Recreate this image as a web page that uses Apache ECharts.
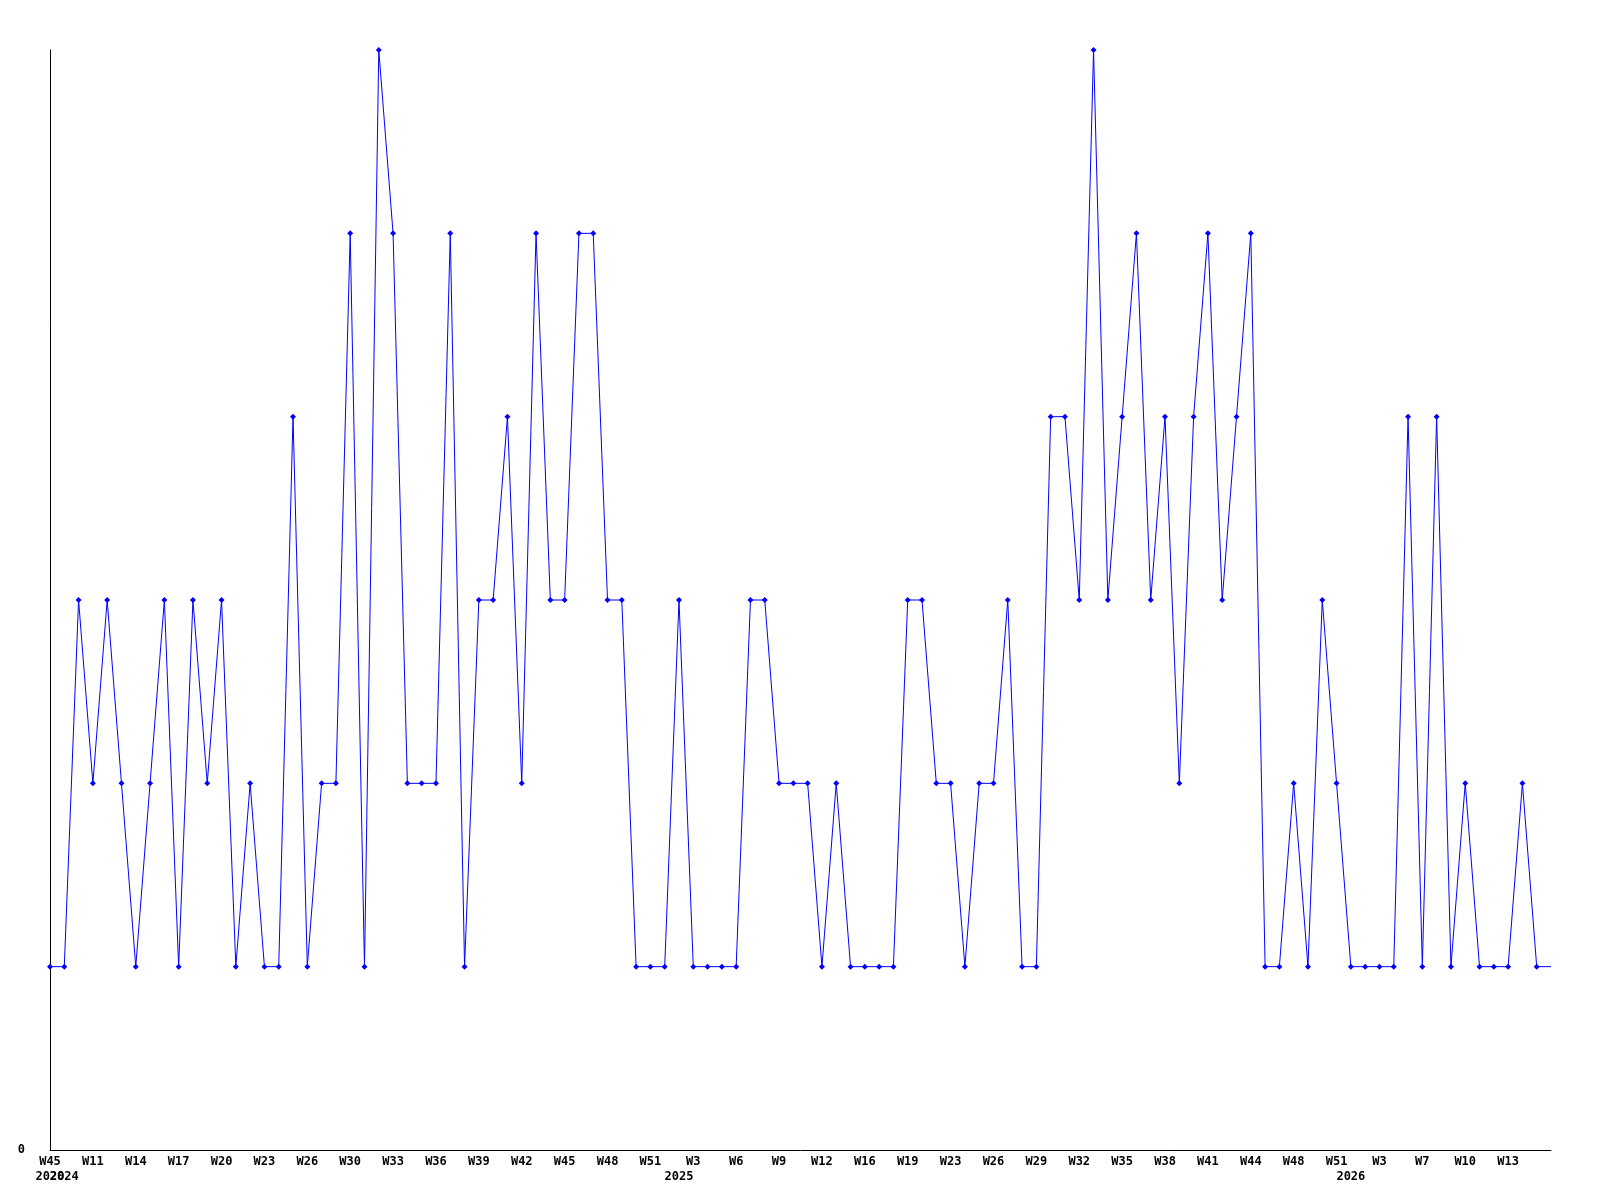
<!DOCTYPE html>
<html>
<head>
<meta charset="utf-8">
<script src="https://cdn.jsdelivr.net/npm/echarts@6/dist/echarts.min.js"></script>
<style>
html, body { margin: 0; padding: 0; background: #fff; }
#chart { width: 1600px; height: 1200px; }
</style>
</head>
<body>
<div id="chart"></div>
<script>
/* weekly values, one per point */
var values = [
    1, 1, 3, 2, 3, 2, 1, 2, 3, 1,
    3, 2, 3, 1, 2, 1, 1, 4, 1, 2,
    2, 5, 1, 6, 5, 2, 2, 2, 5, 1,
    3, 3, 4, 2, 5, 3, 3, 5, 5, 3,
    3, 1, 1, 1, 3, 1, 1, 1, 1, 3,
    3, 2, 2, 2, 1, 2, 1, 1, 1, 1,
    3, 3, 2, 2, 1, 2, 2, 3, 1, 1,
    4, 4, 3, 6, 3, 4, 5, 3, 4, 2,
    4, 5, 3, 4, 5, 1, 1, 2, 1, 3,
    2, 1, 1, 1, 1, 4, 1, 4, 1, 2,
    1, 1, 1, 2, 1, 1
];
/* week label on every third point */
var weekTicks = ['W45', 'W11', 'W14', 'W17', 'W20', 'W23', 'W26', 'W30', 'W33', 'W36',
    'W39', 'W42', 'W45', 'W48', 'W51', 'W3', 'W6', 'W9', 'W12', 'W16',
    'W19', 'W23', 'W26', 'W29', 'W32', 'W35', 'W38', 'W41', 'W44', 'W48',
    'W51', 'W3', 'W7', 'W10', 'W13'];
/* year label position (point index) and text */
var yearIdx = [0, 1, 44, 91];
var yearText = ['2020', '2024', '2025', '2026'];

var categories = values.map(function (v, i) { return String(i); });

function yearAt(i) {
    var k = yearIdx.indexOf(i);
    return k < 0 ? '' : yearText[k];
}

// a year right next to another one would be hidden as overlap,
// so those go on a second (invisible) x axis
function crowded(i) {
    return yearAt(i) !== '' && yearAt(i - 1) !== '';
}

var labelFont = {
    color: '#000',
    fontFamily: 'DejaVu Sans Mono',
    fontWeight: 'bold',
    fontSize: 12,
    margin: 4,
    lineHeight: 15,
    hideOverlap: false
};

var option = {
    animation: false,
    backgroundColor: '#fff',
    grid: {
        left: 50,
        right: 49,
        top: 50,
        bottom: 50
    },
    xAxis: [{
        type: 'category',
        position: 'bottom',
        data: categories,
        boundaryGap: false,
        axisLine: { lineStyle: { color: '#000', width: 1 } },
        axisTick: { show: false },
        splitLine: { show: false },
        axisLabel: Object.assign({}, labelFont, {
            showMinLabel: true,
            interval: function (i) {
                return i % 3 === 0 || (yearAt(i) !== '' && !crowded(i));
            },
            formatter: function (val, i) {
                var w = i % 3 === 0 ? (weekTicks[i / 3] || '') : '';
                return w + '\n' + (crowded(i) ? '' : yearAt(i));
            }
        })
    }, {
        type: 'category',
        position: 'bottom',
        offset: 0,
        data: categories,
        boundaryGap: false,
        axisLine: { show: false },
        axisTick: { show: false },
        splitLine: { show: false },
        axisLabel: Object.assign({}, labelFont, {
            showMinLabel: false,
            showMaxLabel: false,
            interval: function (i) {
                return crowded(i);
            },
            formatter: function (val, i) {
                return '\n' + yearAt(i);
            }
        })
    }],
    yAxis: {
        type: 'value',
        min: 0,
        max: 6,
        interval: 6,
        axisLine: { show: true, lineStyle: { color: '#000', width: 1 } },
        axisTick: { show: false },
        splitLine: { show: false },
        axisLabel: Object.assign({}, labelFont, {
            margin: 25,
            showMaxLabel: false
        })
    },
    series: [{
        type: 'line',
        xAxisIndex: 0,
        data: values.map(function (v, i) {
            return i === values.length - 1 ? { value: v, symbol: 'none' } : v;
        }),
        symbol: 'diamond',
        symbolSize: 6,
        showAllSymbol: true,
        lineStyle: { color: '#0000ff', width: 1 },
        itemStyle: { color: '#0000ff' }
    }]
};

var myChart = echarts.init(document.getElementById('chart'));
myChart.setOption(option);
</script>
</body>
</html>
